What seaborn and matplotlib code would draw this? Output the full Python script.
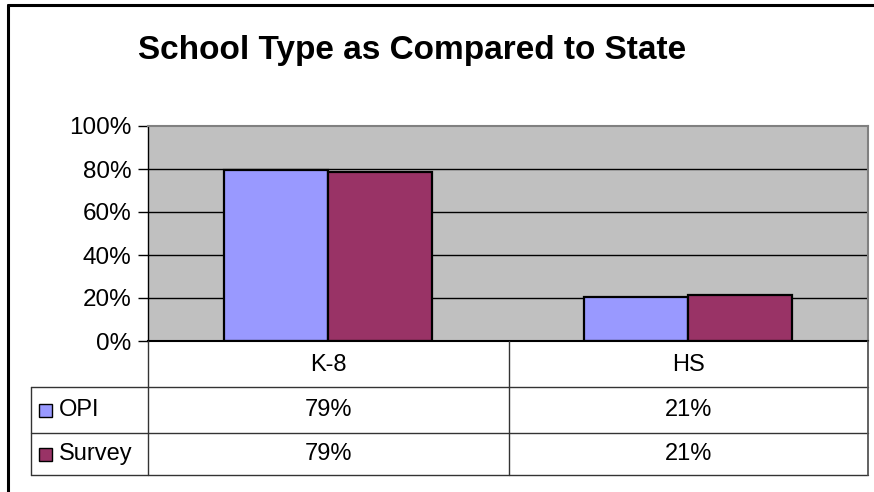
import matplotlib
matplotlib.use("Agg")
import matplotlib.pyplot as plt
from matplotlib.lines import Line2D
from matplotlib.patches import Rectangle
import seaborn as sns
import pandas as pd

# Share of students by school type
categories = ["K-8", "HS"]
series = ["OPI", "Survey"]
opi_values = [79.4, 20.6]
survey_values = [78.6, 21.4]
colors = {"OPI": "#9999FF", "Survey": "#993366"}
y_ticks = [0, 20, 40, 60, 80, 100]
title = "School Type as Compared to State"

df = pd.DataFrame({
    "School type": categories * 2,
    "Source": ["OPI"] * len(categories) + ["Survey"] * len(categories),
    "Share": opi_values + survey_values,
})

sns.set_theme(style="white")
plt.rcParams["font.family"] = ["Liberation Sans", "DejaVu Sans"]
plt.rcParams["text.color"] = "black"
plt.rcParams["ytick.color"] = "black"
plt.rcParams["ytick.labelcolor"] = "black"

W, H = 874, 492
fig = plt.figure(figsize=(W / 100, H / 100), dpi=100)
fig.patch.set_facecolor("white")


def fx(px):
    return px / W


def fy(py):
    return 1 - py / H


# plot area in pixel units
L, R, T, B = 148, 868, 126, 341
ax = fig.add_axes([fx(L), fy(B), fx(R - L), (B - T) / H])
ax.set_facecolor("#C0C0C0")

sns.barplot(data=df, x="School type", y="Share", hue="Source",
            palette=colors, order=categories, hue_order=series,
            width=0.578, saturation=1, edgecolor="black", linewidth=1.6,
            legend=False, ax=ax, zorder=3)

ax.set_xlim(-0.5, len(categories) - 0.5)
ax.set_ylim(0, 100)
ax.set_yticks(y_ticks)
ax.set_yticklabels([f"{t}%" for t in y_ticks], fontsize=17.5)
ax.set_xticks([])
ax.set_xlabel("")
ax.set_ylabel("")
ax.tick_params(axis="y", direction="out", length=7, width=1, color="black",
               pad=5, left=True)
for t in y_ticks[1:-1]:
    ax.axhline(t, color="black", lw=1, zorder=1)

for side in ["top", "right"]:
    ax.spines[side].set_color("#808080")
    ax.spines[side].set_linewidth(1.5)
ax.spines["left"].set_color("black")
ax.spines["left"].set_linewidth(1)
ax.spines["bottom"].set_color("black")
ax.spines["bottom"].set_linewidth(1.5)
ax.spines["bottom"].set_zorder(4)

fig.text(fx(412), fy(51), title, ha="center", va="center",
         fontsize=24, fontweight="bold")


def hline(x0, x1, y, color="black", lw=1):
    fig.add_artist(Line2D([fx(x0), fx(x1)], [fy(y), fy(y)],
                          color=color, lw=lw))


def vline(x, y0, y1, color="black", lw=1):
    fig.add_artist(Line2D([fx(x), fx(x)], [fy(y0), fy(y1)],
                          color=color, lw=lw))


# data table under the plot
row_lines = [387, 433, 475]
leg_left = 31
mid_col = 509
for y in row_lines:
    hline(leg_left, R, y, color="#333333")
vline(leg_left, 387, 475, color="#333333")
vline(L, B, 475, color="#333333")
vline(mid_col, B, 475, color="#333333")
vline(R, B, 475, color="#555555", lw=1.3)

col_centers = [(L + mid_col) / 2, (mid_col + R) / 2]
for cx, cat in zip(col_centers, categories):
    fig.text(fx(cx), fy(365), cat, ha="center", va="center", fontsize=17)

row_centers = [410, 454]
series_values = [opi_values, survey_values]
for ry, name, vals in zip(row_centers, series, series_values):
    fig.add_artist(Rectangle((fx(39), fy(ry + 6.5)), fx(13), 13 / H,
                             facecolor=colors[name], edgecolor="black",
                             lw=1))
    fig.text(fx(59), fy(ry), name, ha="left", va="center", fontsize=17)
    for cx, v in zip(col_centers, vals):
        fig.text(fx(cx), fy(ry), f"{v:.0f}%", ha="center", va="center",
                 fontsize=17)

# chart frame
hline(8, W + 2, 5, lw=2.2)
vline(8, 5, H + 2, lw=2.2)

fig.savefig("out.png", dpi=100)
